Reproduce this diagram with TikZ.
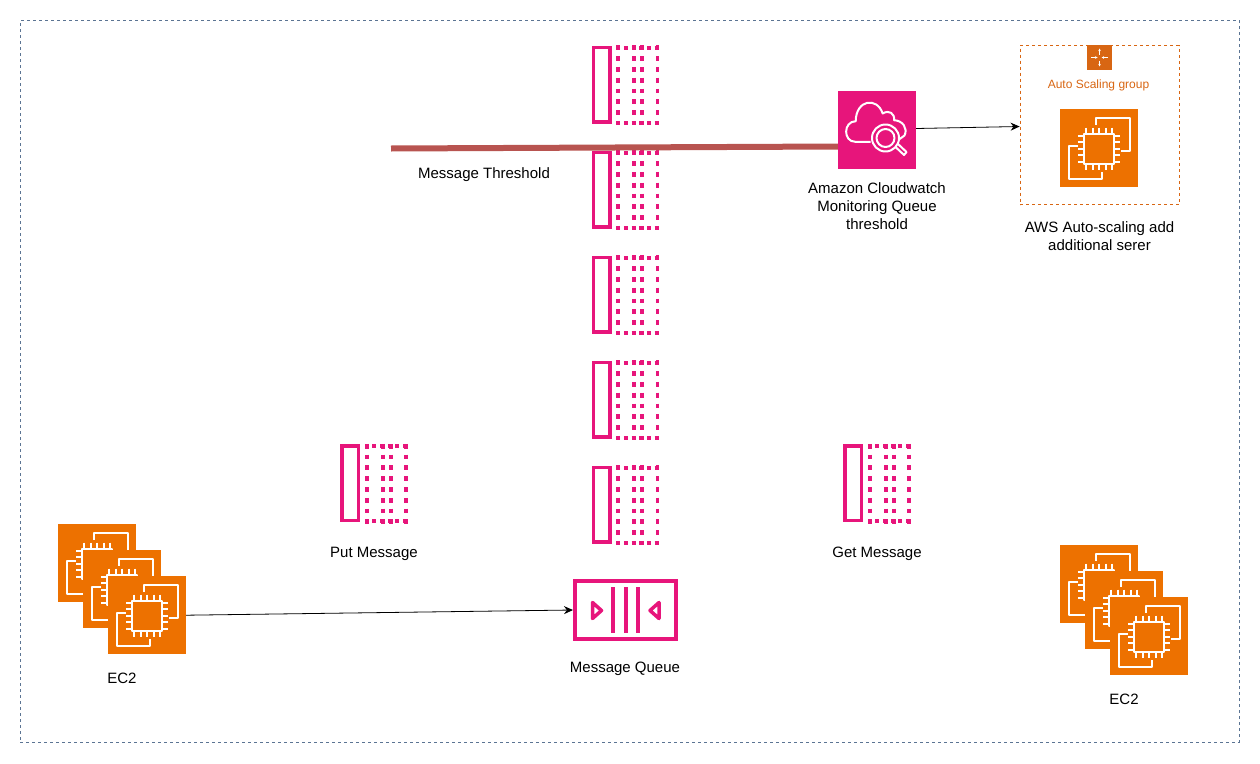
\documentclass[tikz,border=0pt]{standalone}
\usepackage{fontspec}
\setmainfont{Liberation Sans}
\usetikzlibrary{arrows.meta}
\definecolor{ec2orange}{HTML}{ED7100}
\definecolor{asgorange}{HTML}{D86613}
\definecolor{sqspink}{HTML}{E7157B}
\definecolor{thresholdred}{HTML}{B85450}
\definecolor{framegray}{HTML}{5B7493}
\tikzset{
  iconbox/.style={minimum size=78pt, inner sep=0pt, fill=#1},
  caption/.style={align=center, font=\fontsize{15}{18}\selectfont, inner sep=0pt},
  flow/.style={-{Stealth[length=9pt,width=8pt]}, line width=0.8pt},
  asgarrow/.style={white, line width=0.7pt, -{Stealth[length=2.6pt,width=2.6pt]}},
  glyph/.style={draw=white, line width=2pt, line join=round},
  pics/ec2glyph/.style={code={
    \draw [glyph] (-2.7,-23.3) -- (-2.7,-30.7) -- (30.7,-30.7) -- (30.7,2.7) -- (22.3,2.7);
    \draw [glyph] (-21,-2.3) -- (-30.3,-2.3) -- (-30.3,30.7) -- (2.7,30.7) -- (2.7,24);
    \draw [glyph] (-15,-14.5) rectangle (15,15.5);
    \foreach \p in {-13,-6.5,0,6.5,13} {
      \draw [glyph] (\p,-20.5) -- (\p,-14.5);
      \draw [glyph] (\p,15.5) -- (\p,21.5);
      \draw [glyph] (-21,\p+0.5) -- (-15,\p+0.5);
      \draw [glyph] (15,\p+0.5) -- (21,\p+0.5);
    }
  }},
  pics/msgicon/.style={code={
    \draw [sqspink, line width=3.8pt] (0.5,0.5) rectangle (17,75);
    \foreach \c in {25.2,41.2,49.2,64.5} {
      \draw [sqspink, line width=3.8pt, dash pattern=on 4.8pt off 6pt] (\c,-1.7) -- (\c,78);
    }
    \foreach \r in {0.7,75.7} {
      \draw [sqspink, line width=3.8pt, dash pattern=on 3.8pt off 3.85pt] (23.3,\r) -- (66.4,\r);
    }
  }}
}
\begin{document}
\begin{tikzpicture}[x=1pt, y=-1pt]

  \useasboundingbox (0,0) rectangle (1260,763);
  \node (frame) [draw=framegray, line width=1pt, dash pattern=on 3pt off 3pt, minimum width=1219pt, minimum height=721.5pt, inner sep=0pt] at (629.5,381.3) {};

  % message stack in the middle
  \foreach \t in {47,152,257,362,467} {
    \pic at (593,\t) {msgicon};
  }
  \pic at (341.5,445.5) {msgicon};
  \pic at (844.5,445.5) {msgicon};

  \node (queue) [draw=sqspink, line width=4pt, minimum width=101pt, minimum height=58pt, inner sep=0pt] at (625.5,610) {};
  \foreach \b in {613,625.7,638} {
    \draw [sqspink, line width=4pt] (\b,587.3) -- (\b,633.3);
  }
  \draw [sqspink, line width=3.5pt, line join=round] (592.5,602.5) -- (592.5,618.5) -- (601.5,610.5) -- cycle;
  \draw [sqspink, line width=3.5pt, line join=round] (659,602.5) -- (659,618.5) -- (650,610.5) -- cycle;

  % left stack
  \foreach \n/\x/\y in {a/97/563.2, b/122/589.2, c/147/615.2} {
    \node (ec2\n) [iconbox=ec2orange] at (\x,\y) {};
    \pic at (\x,\y) {ec2glyph};
  }
  % right stack
  \foreach \n/\x/\y in {d/1099/584.2, e/1124/610.2, f/1149/636.2} {
    \node (ec2\n) [iconbox=ec2orange] at (\x,\y) {};
    \pic at (\x,\y) {ec2glyph};
  }

  % cloudwatch
  \node (cw) [iconbox=sqspink] at (877,129.5) {};
  \begin{scope}[shift={(877,129.5)}]
    \draw [glyph] (-6.3,12.3) -- (-21.7,12.3) .. controls (-34,12.3) and (-34,-8) .. (-21.3,-8.3)
      .. controls (-21,-30) and (0,-33) .. (5.7,-16)
      .. controls (12,-20) and (18,-16) .. (17,-9.3)
      .. controls (26,-9) and (31,-1) .. (27.5,6) -- (22,10);
    \draw [glyph] (8.5,8.5) circle (13.5);
    \draw [glyph] (8.5,8.5) circle (9);
    \draw [glyph, line cap=round] (18.5,17.5) -- (27,25.5) -- (29.5,22.5) -- (21,14.5);
  \end{scope}

  % auto scaling
  \node (asg) [draw=asgorange, line width=0.8pt, dash pattern=on 3pt off 3pt, minimum size=159pt, inner sep=0pt] at (1099.5,125) {};
  \node (asgicon) [fill=asgorange, minimum size=25pt, inner sep=0pt] at (1099.5,57.5) {};
  \draw [asgarrow] (asgicon.center) ++(0,-3) -- ++(0,-6);
  \draw [asgarrow] (asgicon.center) ++(0,3) -- ++(0,6);
  \draw [asgarrow] (asgicon.center) ++(-8.5,0) -- ++(6.5,0);
  \draw [asgarrow] (asgicon.center) ++(8.5,0) -- ++(-6.5,0);
  \node (asgtext) [inner sep=0pt, text=asgorange, font=\fontsize{12}{14}\selectfont] at (1098.5,85) {Auto Scaling group};
  \node (ec2top) [iconbox=ec2orange] at (1099,148.2) {};
  \pic at (1099,148.2) {ec2glyph};

  % threshold line
  \coordinate (thresholdstart) at (391,148.5);
  \draw [thresholdred, line width=6pt] (thresholdstart) -- ([yshift=-17pt]cw.west);

  % arrows
  \draw [flow] (ec2c.east) -- (queue.west);
  \draw [flow] ([yshift=1pt]cw.east) -- ([yshift=-1.5pt]asg.west);

  % labels
  \node (thresholdtext) [caption] at (484,174.5) {Message Threshold};
  \node (cwtext) [caption] at (877,206.5) {Amazon Cloudwatch\\Monitoring Queue\\threshold};
  \node (asgcaption) [caption] at (1099.5,236.5) {AWS Auto-scaling add\\additional serer};
  \node (puttext) [caption] at (374,553.5) {Put Message};
  \node (gettext) [caption] at (877,553.5) {Get Message};
  \node (queuetext) [caption] at (625,668.5) {Message Queue};
  \node (ec2left) [caption] at (122,678.5) {EC2};
  \node (ec2right) [caption] at (1124,699.5) {EC2};

\end{tikzpicture}
\end{document}
